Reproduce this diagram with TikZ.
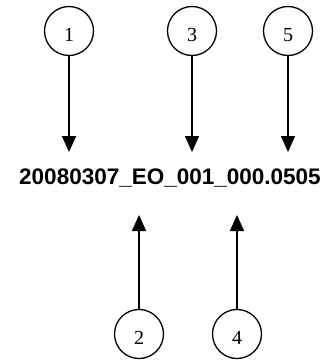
\documentclass[tikz,border=0pt]{standalone}
\usepackage{fontspec}
\setmainfont{Liberation Serif}
\newfontfamily\labelfont{Liberation Sans}
\usetikzlibrary{arrows.meta}
\begin{document}
\begin{tikzpicture}[x=1pt,y=-1pt,
  circ/.style={draw,circle,minimum size=49pt,inner sep=0pt,line width=1.3pt},
  num/.style={inner sep=0pt,font=\fontsize{20}{22}\selectfont},
  arr/.style={line width=1.6pt,-{Triangle[length=16pt,width=14pt]}},
  code/.style={inner sep=0pt,anchor=base,font=\labelfont\bfseries\fontsize{22.5}{26}\selectfont}]
\useasboundingbox (0,0) rectangle (336,361);
\node[code] (t) at (170,184) {20080307\_EO\_001\_000.0505};
\node[circ] (c1) at (69,31) {};
\node[circ] (c3) at (192,31) {};
\node[circ] (c5) at (288,31) {};
\node[circ] (c2) at (139,334) {};
\node[circ] (c4) at (237,334) {};
\node[num] (n1) at ([yshift=-4pt]c1.center) {1};
\node[num] (n3) at ([yshift=-4pt]c3.center) {3};
\node[num] (n5) at ([yshift=-4pt]c5.center) {5};
\node[num] (n2) at ([yshift=-4pt]c2.center) {2};
\node[num] (n4) at ([yshift=-4pt]c4.center) {4};
\coordinate (e1) at (69,152);
\coordinate (e3) at (192,152);
\coordinate (e5) at (288,152);
\coordinate (e2) at (139,215);
\coordinate (e4) at (237,215);
\draw[arr] (c1) -- (e1);
\draw[arr] (c3) -- (e3);
\draw[arr] (c5) -- (e5);
\draw[arr] (c2) -- (e2);
\draw[arr] (c4) -- (e4);
\end{tikzpicture}
\end{document}
